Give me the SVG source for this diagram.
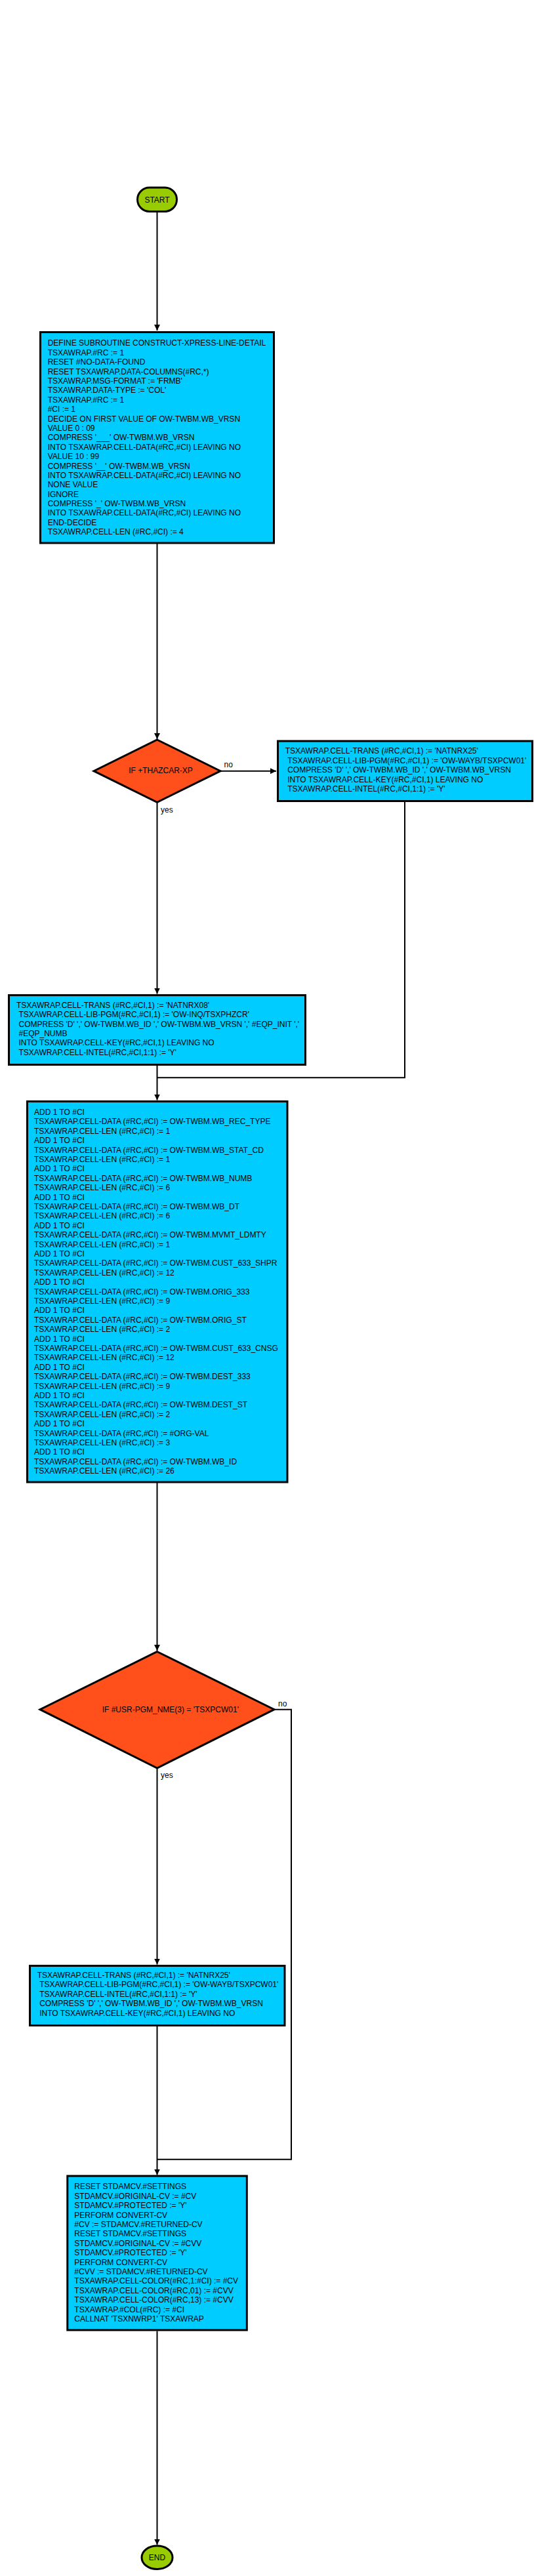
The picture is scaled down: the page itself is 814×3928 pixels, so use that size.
<svg xmlns="http://www.w3.org/2000/svg" width="814" height="3928" viewBox="0 0 814 3928">
<style>
text{font-family:"Liberation Sans",Arial,sans-serif;font-size:12px;fill:#000}
.term{fill:#99CC00;stroke:#000;stroke-width:3}
.proc{fill:#00CCFF;stroke:#000;stroke-width:3}
.dec{fill:#FF4F1A;stroke:#000;stroke-width:3}
.edge{fill:none;stroke:#000;stroke-width:2}
</style>
<defs>
<marker id="arr" markerUnits="userSpaceOnUse" viewBox="0 0 10 10" markerWidth="9" markerHeight="9" refX="10" refY="5" orient="auto">
<path d="M0,0 L10,5 L0,10 z" fill="#000"/>
</marker>
</defs>
<g id="connectors">
<path class="edge" d="M239.5,323 V504" marker-end="url(#arr)"/>
<path class="edge" d="M239.5,829 V1127" marker-end="url(#arr)"/>
<path class="edge" d="M336,1175.7 H421" marker-end="url(#arr)"/>
<text x="341.6" y="1170">no</text>
<path class="edge" d="M239.5,1223.5 V1515.5" marker-end="url(#arr)"/>
<text x="245" y="1239.3">yes</text>
<path class="edge" d="M617,1223 V1643.3 H239.5"/>
<path class="edge" d="M239.5,1625 V1677.5" marker-end="url(#arr)"/>
<path class="edge" d="M239.5,2261 V2517" marker-end="url(#arr)"/>
<path class="edge" d="M418,2606.7 H444 V3292.7 H239.5"/>
<text x="424" y="2601.7">no</text>
<path class="edge" d="M239.5,2696.5 V2995.5" marker-end="url(#arr)"/>
<text x="245" y="2710.7">yes</text>
<path class="edge" d="M239.5,3090 V3316.5" marker-end="url(#arr)"/>
<path class="edge" d="M239.5,3554.5 V3880.5" marker-end="url(#arr)"/>
</g>
<g id="start">
<rect class="term" x="209.5" y="286" width="60" height="36.5" rx="18.25" ry="18.25"/>
<text x="239.5" y="309" text-anchor="middle">START</text>
</g>
<g id="box1">
<rect class="proc" x="61.5" y="506.5" width="356" height="321.5"/>
<text x="72.7" y="527.3">
<tspan x="72.7" dy="0">DEFINE SUBROUTINE CONSTRUCT-XPRESS-LINE-DETAIL</tspan>
<tspan x="72.7" dy="14.4">TSXAWRAP.#RC := 1</tspan>
<tspan x="72.7" dy="14.4">RESET #NO-DATA-FOUND</tspan>
<tspan x="72.7" dy="14.4">RESET TSXAWRAP.DATA-COLUMNS(#RC,*)</tspan>
<tspan x="72.7" dy="14.4">TSXAWRAP.MSG-FORMAT := 'FRMB'</tspan>
<tspan x="72.7" dy="14.4">TSXAWRAP.DATA-TYPE := 'COL'</tspan>
<tspan x="72.7" dy="14.4">TSXAWRAP.#RC := 1</tspan>
<tspan x="72.7" dy="14.4">#CI := 1</tspan>
<tspan x="72.7" dy="14.4">DECIDE ON FIRST VALUE OF OW-TWBM.WB_VRSN</tspan>
<tspan x="72.7" dy="14.4">VALUE 0 : 09</tspan>
<tspan x="72.7" dy="14.4">COMPRESS '___' OW-TWBM.WB_VRSN</tspan>
<tspan x="72.7" dy="14.4">INTO TSXAWRAP.CELL-DATA(#RC,#CI) LEAVING NO</tspan>
<tspan x="72.7" dy="14.4">VALUE 10 : 99</tspan>
<tspan x="72.7" dy="14.4">COMPRESS '__' OW-TWBM.WB_VRSN</tspan>
<tspan x="72.7" dy="14.4">INTO TSXAWRAP.CELL-DATA(#RC,#CI) LEAVING NO</tspan>
<tspan x="72.7" dy="14.4">NONE VALUE</tspan>
<tspan x="72.7" dy="14.4">IGNORE</tspan>
<tspan x="72.7" dy="14.4">COMPRESS '_' OW-TWBM.WB_VRSN</tspan>
<tspan x="72.7" dy="14.4">INTO TSXAWRAP.CELL-DATA(#RC,#CI) LEAVING NO</tspan>
<tspan x="72.7" dy="14.4">END-DECIDE</tspan>
<tspan x="72.7" dy="14.4">TSXAWRAP.CELL-LEN (#RC,#CI) := 4</tspan>
</text>
</g>
<g id="dec1">
<polygon class="dec" points="239.5,1128 336,1175.7 239.5,1223.3 143,1175.7"/>
<text x="196.2" y="1179.3">IF +THAZCAR-XP</text>
</g>
<g id="box2">
<rect class="proc" x="423.5" y="1130" width="388" height="91.5"/>
<text x="434.7" y="1149.3">
<tspan x="434.7" dy="0">TSXAWRAP.CELL-TRANS (#RC,#CI,1) := 'NATNRX25'</tspan>
<tspan x="438.2" dy="14.4">TSXAWRAP.CELL-LIB-PGM(#RC,#CI,1) := 'OW-WAYB/TSXPCW01'</tspan>
<tspan x="438.2" dy="14.4">COMPRESS 'D' ',' OW-TWBM.WB_ID ',' OW-TWBM.WB_VRSN</tspan>
<tspan x="438.2" dy="14.4">INTO TSXAWRAP.CELL-KEY(#RC,#CI,1) LEAVING NO</tspan>
<tspan x="438.2" dy="14.4">TSXAWRAP.CELL-INTEL(#RC,#CI,1:1) := 'Y'</tspan>
</text>
</g>
<g id="box3">
<rect class="proc" x="13.5" y="1517.5" width="452" height="106"/>
<text x="25" y="1536.7">
<tspan x="25" dy="0">TSXAWRAP.CELL-TRANS (#RC,#CI,1) := 'NATNRX08'</tspan>
<tspan x="28.5" dy="14.4">TSXAWRAP.CELL-LIB-PGM(#RC,#CI,1) := 'OW-INQ/TSXPHZCR'</tspan>
<tspan x="28.5" dy="14.4">COMPRESS 'D' ',' OW-TWBM.WB_ID ',' OW-TWBM.WB_VRSN ',' #EQP_INIT ','</tspan>
<tspan x="28.5" dy="14.4">#EQP_NUMB</tspan>
<tspan x="28.5" dy="14.4">INTO TSXAWRAP.CELL-KEY(#RC,#CI,1) LEAVING NO</tspan>
<tspan x="28.5" dy="14.4">TSXAWRAP.CELL-INTEL(#RC,#CI,1:1) := 'Y'</tspan>
</text>
</g>
<g id="box4">
<rect class="proc" x="41.5" y="1679.5" width="396.5" height="580.5"/>
<text x="52" y="1700">
<tspan x="52" dy="0">ADD 1 TO #CI</tspan>
<tspan x="52" dy="14.4">TSXAWRAP.CELL-DATA (#RC,#CI) := OW-TWBM.WB_REC_TYPE</tspan>
<tspan x="52" dy="14.4">TSXAWRAP.CELL-LEN (#RC,#CI) := 1</tspan>
<tspan x="52" dy="14.4">ADD 1 TO #CI</tspan>
<tspan x="52" dy="14.4">TSXAWRAP.CELL-DATA (#RC,#CI) := OW-TWBM.WB_STAT_CD</tspan>
<tspan x="52" dy="14.4">TSXAWRAP.CELL-LEN (#RC,#CI) := 1</tspan>
<tspan x="52" dy="14.4">ADD 1 TO #CI</tspan>
<tspan x="52" dy="14.4">TSXAWRAP.CELL-DATA (#RC,#CI) := OW-TWBM.WB_NUMB</tspan>
<tspan x="52" dy="14.4">TSXAWRAP.CELL-LEN (#RC,#CI) := 6</tspan>
<tspan x="52" dy="14.4">ADD 1 TO #CI</tspan>
<tspan x="52" dy="14.4">TSXAWRAP.CELL-DATA (#RC,#CI) := OW-TWBM.WB_DT</tspan>
<tspan x="52" dy="14.4">TSXAWRAP.CELL-LEN (#RC,#CI) := 6</tspan>
<tspan x="52" dy="14.4">ADD 1 TO #CI</tspan>
<tspan x="52" dy="14.4">TSXAWRAP.CELL-DATA (#RC,#CI) := OW-TWBM.MVMT_LDMTY</tspan>
<tspan x="52" dy="14.4">TSXAWRAP.CELL-LEN (#RC,#CI) := 1</tspan>
<tspan x="52" dy="14.4">ADD 1 TO #CI</tspan>
<tspan x="52" dy="14.4">TSXAWRAP.CELL-DATA (#RC,#CI) := OW-TWBM.CUST_633_SHPR</tspan>
<tspan x="52" dy="14.4">TSXAWRAP.CELL-LEN (#RC,#CI) := 12</tspan>
<tspan x="52" dy="14.4">ADD 1 TO #CI</tspan>
<tspan x="52" dy="14.4">TSXAWRAP.CELL-DATA (#RC,#CI) := OW-TWBM.ORIG_333</tspan>
<tspan x="52" dy="14.4">TSXAWRAP.CELL-LEN (#RC,#CI) := 9</tspan>
<tspan x="52" dy="14.4">ADD 1 TO #CI</tspan>
<tspan x="52" dy="14.4">TSXAWRAP.CELL-DATA (#RC,#CI) := OW-TWBM.ORIG_ST</tspan>
<tspan x="52" dy="14.4">TSXAWRAP.CELL-LEN (#RC,#CI) := 2</tspan>
<tspan x="52" dy="14.4">ADD 1 TO #CI</tspan>
<tspan x="52" dy="14.4">TSXAWRAP.CELL-DATA (#RC,#CI) := OW-TWBM.CUST_633_CNSG</tspan>
<tspan x="52" dy="14.4">TSXAWRAP.CELL-LEN (#RC,#CI) := 12</tspan>
<tspan x="52" dy="14.4">ADD 1 TO #CI</tspan>
<tspan x="52" dy="14.4">TSXAWRAP.CELL-DATA (#RC,#CI) := OW-TWBM.DEST_333</tspan>
<tspan x="52" dy="14.4">TSXAWRAP.CELL-LEN (#RC,#CI) := 9</tspan>
<tspan x="52" dy="14.4">ADD 1 TO #CI</tspan>
<tspan x="52" dy="14.4">TSXAWRAP.CELL-DATA (#RC,#CI) := OW-TWBM.DEST_ST</tspan>
<tspan x="52" dy="14.4">TSXAWRAP.CELL-LEN (#RC,#CI) := 2</tspan>
<tspan x="52" dy="14.4">ADD 1 TO #CI</tspan>
<tspan x="52" dy="14.4">TSXAWRAP.CELL-DATA (#RC,#CI) := #ORG-VAL</tspan>
<tspan x="52" dy="14.4">TSXAWRAP.CELL-LEN (#RC,#CI) := 3</tspan>
<tspan x="52" dy="14.4">ADD 1 TO #CI</tspan>
<tspan x="52" dy="14.4">TSXAWRAP.CELL-DATA (#RC,#CI) := OW-TWBM.WB_ID</tspan>
<tspan x="52" dy="14.4">TSXAWRAP.CELL-LEN (#RC,#CI) := 26</tspan>
</text>
</g>
<g id="dec2">
<polygon class="dec" points="239.5,2518.5 418,2606.7 239.5,2696 61,2606.7"/>
<text x="155.7" y="2610.7">IF #USR-PGM_NME(3) = 'TSXPCW01'</text>
</g>
<g id="box5">
<rect class="proc" x="45.5" y="2997.5" width="388.5" height="91"/>
<text x="56.7" y="3016">
<tspan x="56.7" dy="0">TSXAWRAP.CELL-TRANS (#RC,#CI,1) := 'NATNRX25'</tspan>
<tspan x="60.2" dy="14.4">TSXAWRAP.CELL-LIB-PGM(#RC,#CI,1) := 'OW-WAYB/TSXPCW01'</tspan>
<tspan x="60.2" dy="14.4">TSXAWRAP.CELL-INTEL(#RC,#CI,1:1) := 'Y'</tspan>
<tspan x="60.2" dy="14.4">COMPRESS 'D' ',' OW-TWBM.WB_ID ',' OW-TWBM.WB_VRSN</tspan>
<tspan x="60.2" dy="14.4">INTO TSXAWRAP.CELL-KEY(#RC,#CI,1) LEAVING NO</tspan>
</text>
</g>
<g id="box6">
<rect class="proc" x="102.8" y="3318" width="273.5" height="235"/>
<text x="113.3" y="3338.3">
<tspan x="113.3" dy="0">RESET STDAMCV.#SETTINGS</tspan>
<tspan x="113.3" dy="14.4">STDAMCV.#ORIGINAL-CV := #CV</tspan>
<tspan x="113.3" dy="14.4">STDAMCV.#PROTECTED := 'Y'</tspan>
<tspan x="113.3" dy="14.4">PERFORM CONVERT-CV</tspan>
<tspan x="113.3" dy="14.4">#CV := STDAMCV.#RETURNED-CV</tspan>
<tspan x="113.3" dy="14.4">RESET STDAMCV.#SETTINGS</tspan>
<tspan x="113.3" dy="14.4">STDAMCV.#ORIGINAL-CV := #CVV</tspan>
<tspan x="113.3" dy="14.4">STDAMCV.#PROTECTED := 'Y'</tspan>
<tspan x="113.3" dy="14.4">PERFORM CONVERT-CV</tspan>
<tspan x="113.3" dy="14.4">#CVV := STDAMCV.#RETURNED-CV</tspan>
<tspan x="113.3" dy="14.4">TSXAWRAP.CELL-COLOR(#RC,1:#CI) := #CV</tspan>
<tspan x="113.3" dy="14.4">TSXAWRAP.CELL-COLOR(#RC,01) := #CVV</tspan>
<tspan x="113.3" dy="14.4">TSXAWRAP.CELL-COLOR(#RC,13) := #CVV</tspan>
<tspan x="113.3" dy="14.4">TSXAWRAP.#COL(#RC) := #CI</tspan>
<tspan x="113.3" dy="14.4">CALLNAT 'TSXNWRP1' TSXAWRAP</tspan>
</text>
</g>
<g id="end">
<rect class="term" x="216" y="3882" width="47" height="35.5" rx="23" ry="17.75"/>
<text x="239.5" y="3904" text-anchor="middle">END</text>
</g>
</svg>
